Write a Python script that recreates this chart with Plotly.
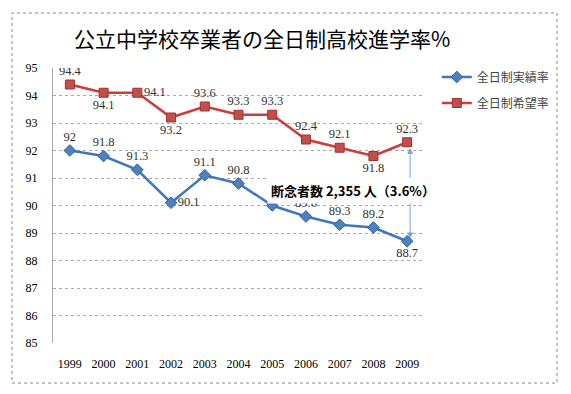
import plotly.graph_objects as go

years = ["1999", "2000", "2001", "2002", "2003", "2004", "2005", "2006", "2007", "2008", "2009"]
actual = [92.0, 91.8, 91.3, 90.1, 91.1, 90.8, 90.0, 89.6, 89.3, 89.2, 88.7]
hope = [94.4, 94.1, 94.1, 93.2, 93.6, 93.3, 93.3, 92.4, 92.1, 91.8, 92.3]
actual_labels = ["92", "91.8", "91.3", "90.1", "91.1", "90.8", "", "89.6", "89.3", "89.2", "88.7"]
hope_labels = ["94.4", "94.1", "94.1", "93.2", "93.6", "93.3", "93.3", "92.4", "92.1", "91.8", "92.3"]
actual_pos = ["top center", "top center", "top center", "middle right", "top center", "top center",
              "top center", "top center", "top center", "top center", "bottom center"]
hope_pos = ["top center", "bottom center", "middle right", "bottom center", "top center", "top center",
            "top center", "top center", "top center", "bottom center", "top center"]
name_actual = "全日制実績率"
name_hope = "全日制希望率"
title_text = "公立中学校卒業者の全日制高校進学率%"
note_text = "断念者数 2,355 人（3.6%）"

blue = "#3D78C0"
red = "#CF3B36"
serif = "Liberation Serif, DejaVu Serif, serif"

fig = go.Figure()
fig.add_trace(go.Scatter(
    x=years, y=actual, name=name_actual, mode="lines+markers+text",
    text=actual_labels, textposition=actual_pos,
    textfont=dict(family=serif, size=12.5, color="#333333"),
    line=dict(color=blue, width=2.5),
    marker=dict(symbol="diamond", size=9, color="#4F81BD", line=dict(color="#2F5F9E", width=1)),
    legend="legend", showlegend=True,
))
fig.add_trace(go.Scatter(
    x=years, y=hope, name=name_hope, mode="lines+markers+text",
    text=hope_labels, textposition=hope_pos,
    textfont=dict(family=serif, size=12.5, color="#333333"),
    line=dict(color=red, width=2.5),
    marker=dict(symbol="square", size=9, color="#C0504D", line=dict(color="#A03030", width=1)),
    legend="legend2", showlegend=True,
))

fig.add_annotation(
    x=10, y=88.8, ax=10, ay=92.15, xref="x", yref="y", axref="x", ayref="y",
    text="", showarrow=True, arrowhead=2, arrowside="end+start", arrowsize=1.2,
    arrowwidth=1, arrowcolor="#7FA3D6", xshift=3,
)
fig.add_annotation(
    x=0.809, y=0.556, xref="paper", yref="paper", xanchor="center", yanchor="middle",
    text="<b>" + note_text + "</b>",
    showarrow=False, bgcolor="white", font=dict(family="Noto Sans CJK JP", size=13, color="black"),
    borderpad=3,
)

fig.add_shape(type="rect", xref="paper", yref="paper", x0=-0.1105, x1=1.3585, y0=-0.1455, y1=1.2,
              line=dict(color="#888888", width=1, dash="dot"), fillcolor="rgba(0,0,0,0)", layer="below")

fig.update_layout(
    width=571, height=394, showlegend=True,
    margin=dict(l=53, r=147, t=68, b=51, autoexpand=False),
    paper_bgcolor="white", plot_bgcolor="white",
    title=dict(text=title_text, xref="container", yref="container", x=0.459, xanchor="center",
               y=0.9, yanchor="middle",
               font=dict(family="Noto Sans CJK JP", size=21, color="black")),
    legend=dict(xref="container", yref="container", x=0.765, y=0.8046, xanchor="left", yanchor="middle",
                bgcolor="rgba(0,0,0,0)", font=dict(family="Noto Sans CJK JP", size=12, color="#444444")),
    legend2=dict(xref="container", yref="container", x=0.765, y=0.7386, xanchor="left", yanchor="middle",
                 bgcolor="rgba(0,0,0,0)", font=dict(family="Noto Sans CJK JP", size=12, color="#444444")),
    xaxis=dict(type="category", range=[-0.5, 10.5], showgrid=False, showline=False, ticks="",
               tickfont=dict(family=serif, size=12, color="black"), ticklabelstandoff=12),
    yaxis=dict(range=[85, 95], dtick=1, showgrid=True, gridcolor="#AAAAAA", griddash="dot",
               showline=True, linecolor="#AAAAAA", linewidth=1, zeroline=False, ticks="",
               tickfont=dict(family=serif, size=12, color="black"), ticklabelstandoff=12),
)

fig.write_html("out.html", config={"displayModeBar": False},
               post_script="document.body.style.margin='0';")
